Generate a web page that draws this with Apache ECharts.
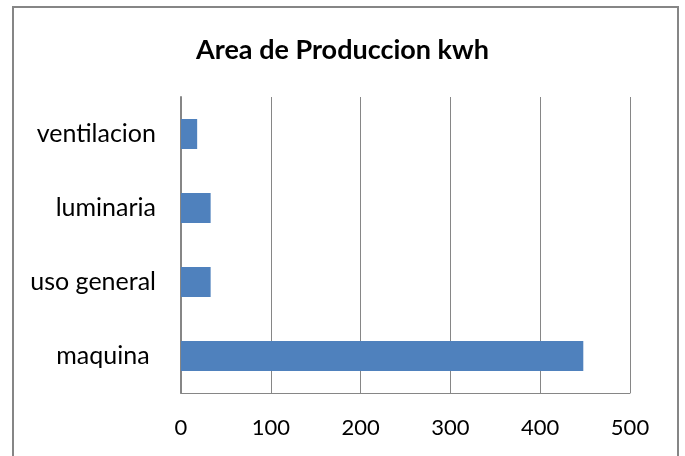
<!DOCTYPE html>
<html>
<head>
<meta charset="utf-8">
<script src="https://cdn.jsdelivr.net/npm/echarts@6/dist/echarts.min.js"></script>
<style>
  html, body { margin: 0; padding: 0; background: #fff; }
  #chart { width: 685px; height: 456px; }
</style>
</head>
<body>
<div id="chart"></div>
<script>
// Energy use of the production area (kWh), by consumer
const categories = ['maquina ', 'uso general', 'luminaria', 'ventilacion'];
const kwhValues = [448, 33, 33, 18];
const tickValues = [0, 100, 200, 300, 400, 500];

const FONT = 'Lato, "Open Sans", sans-serif';
const GRAY = '#868686';

const chart = echarts.init(document.getElementById('chart'), null, { renderer: 'canvas' });
chart.setOption({
  animation: false,
  backgroundColor: '#ffffff',
  title: {
    text: 'Area de Produccion kwh',
    left: 'center',
    top: 32,
    textStyle: { fontFamily: FONT, fontSize: 27, fontWeight: 'bold', color: '#000' }
  },
  graphic: [{
    type: 'rect',
    shape: { x: 13, y: 7, width: 665, height: 470 },
    style: { fill: 'none', stroke: GRAY, lineWidth: 2 },
    silent: true
  }],
  grid: { left: 181, right: 55, top: 97, bottom: 63, containLabel: false },
  xAxis: {
    type: 'value',
    min: tickValues[0],
    max: tickValues[tickValues.length - 1],
    interval: 100,
    axisLine: { show: true, lineStyle: { color: GRAY, width: 1 } },
    axisTick: { show: false },
    splitLine: { show: true, lineStyle: { color: GRAY, width: 1 } },
    axisLabel: { fontFamily: FONT, fontSize: 22, color: '#000', margin: 24 }
  },
  yAxis: {
    type: 'category',
    data: categories,
    axisLine: { show: true, lineStyle: { color: GRAY, width: 2 } },
    axisTick: { show: false },
    splitLine: { show: false },
    axisLabel: { fontFamily: FONT, fontSize: 25, color: '#000', margin: 25 }
  },
  series: [{
    type: 'bar',
    data: kwhValues,
    barWidth: 30,
    itemStyle: { color: '#4F81BD' }
  }]
});
</script>
</body>
</html>
